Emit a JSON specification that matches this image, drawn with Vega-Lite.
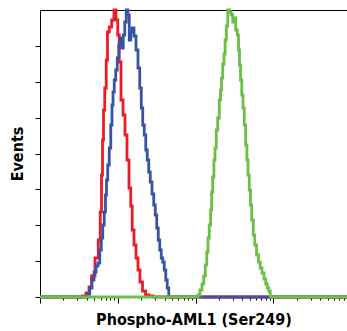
{
  "$schema": "https://vega.github.io/schema/vega-lite/v6.json",
  "autosize": "none",
  "width": 307,
  "height": 287,
  "padding": {"left": 40, "top": 10, "right": 0, "bottom": 34},
  "background": "white",
  "config": {"view": {"stroke": null}},
  "datasets": {
    "hist": [
      {"sample": "Isotype Control", "logIntensity": 0, "events": 0},
      {"sample": "Isotype Control", "logIntensity": 0.527, "events": 0},
      {"sample": "Isotype Control", "logIntensity": 0.566, "events": 0.35},
      {"sample": "Isotype Control", "logIntensity": 0.617, "events": 1.39},
      {"sample": "Isotype Control", "logIntensity": 0.643, "events": 3.48},
      {"sample": "Isotype Control", "logIntensity": 0.681, "events": 7.32},
      {"sample": "Isotype Control", "logIntensity": 0.733, "events": 13.59},
      {"sample": "Isotype Control", "logIntensity": 0.765, "events": 19.86},
      {"sample": "Isotype Control", "logIntensity": 0.784, "events": 29.62},
      {"sample": "Isotype Control", "logIntensity": 0.797, "events": 42.51},
      {"sample": "Isotype Control", "logIntensity": 0.81, "events": 54.7},
      {"sample": "Isotype Control", "logIntensity": 0.823, "events": 65.16},
      {"sample": "Isotype Control", "logIntensity": 0.842, "events": 72.82},
      {"sample": "Isotype Control", "logIntensity": 0.861, "events": 82.58},
      {"sample": "Isotype Control", "logIntensity": 0.874, "events": 92.33},
      {"sample": "Isotype Control", "logIntensity": 0.906, "events": 94.08},
      {"sample": "Isotype Control", "logIntensity": 0.938, "events": 96.52},
      {"sample": "Isotype Control", "logIntensity": 0.964, "events": 100},
      {"sample": "Isotype Control", "logIntensity": 0.99, "events": 96.52},
      {"sample": "Isotype Control", "logIntensity": 1.009, "events": 91.29},
      {"sample": "Isotype Control", "logIntensity": 1.028, "events": 81.88},
      {"sample": "Isotype Control", "logIntensity": 1.054, "events": 68.64},
      {"sample": "Isotype Control", "logIntensity": 1.08, "events": 63.41},
      {"sample": "Isotype Control", "logIntensity": 1.105, "events": 56.45},
      {"sample": "Isotype Control", "logIntensity": 1.131, "events": 47.74},
      {"sample": "Isotype Control", "logIntensity": 1.157, "events": 37.98},
      {"sample": "Isotype Control", "logIntensity": 1.176, "events": 31.71},
      {"sample": "Isotype Control", "logIntensity": 1.195, "events": 23.34},
      {"sample": "Isotype Control", "logIntensity": 1.221, "events": 18.12},
      {"sample": "Isotype Control", "logIntensity": 1.247, "events": 13.59},
      {"sample": "Isotype Control", "logIntensity": 1.272, "events": 9.41},
      {"sample": "Isotype Control", "logIntensity": 1.298, "events": 5.23},
      {"sample": "Isotype Control", "logIntensity": 1.337, "events": 2.09},
      {"sample": "Isotype Control", "logIntensity": 1.375, "events": 0.7},
      {"sample": "Isotype Control", "logIntensity": 1.427, "events": 0.35},
      {"sample": "Isotype Control", "logIntensity": 1.478, "events": 0},
      {"sample": "Isotype Control", "logIntensity": 3.946, "events": 0},

      {"sample": "Untreated", "logIntensity": 0, "events": 0},
      {"sample": "Untreated", "logIntensity": 0.604, "events": 0},
      {"sample": "Untreated", "logIntensity": 0.623, "events": 1.05},
      {"sample": "Untreated", "logIntensity": 0.656, "events": 3.14},
      {"sample": "Untreated", "logIntensity": 0.681, "events": 5.92},
      {"sample": "Untreated", "logIntensity": 0.707, "events": 8.71},
      {"sample": "Untreated", "logIntensity": 0.733, "events": 10.8},
      {"sample": "Untreated", "logIntensity": 0.758, "events": 11.85},
      {"sample": "Untreated", "logIntensity": 0.778, "events": 16.38},
      {"sample": "Untreated", "logIntensity": 0.797, "events": 20.56},
      {"sample": "Untreated", "logIntensity": 0.816, "events": 25.09},
      {"sample": "Untreated", "logIntensity": 0.835, "events": 29.62},
      {"sample": "Untreated", "logIntensity": 0.848, "events": 35.54},
      {"sample": "Untreated", "logIntensity": 0.861, "events": 40.77},
      {"sample": "Untreated", "logIntensity": 0.88, "events": 45.99},
      {"sample": "Untreated", "logIntensity": 0.9, "events": 51.92},
      {"sample": "Untreated", "logIntensity": 0.919, "events": 59.93},
      {"sample": "Untreated", "logIntensity": 0.932, "events": 66.9},
      {"sample": "Untreated", "logIntensity": 0.945, "events": 71.43},
      {"sample": "Untreated", "logIntensity": 0.964, "events": 75.61},
      {"sample": "Untreated", "logIntensity": 0.983, "events": 79.09},
      {"sample": "Untreated", "logIntensity": 1.003, "events": 83.28},
      {"sample": "Untreated", "logIntensity": 1.022, "events": 87.8},
      {"sample": "Untreated", "logIntensity": 1.041, "events": 90.24},
      {"sample": "Untreated", "logIntensity": 1.06, "events": 86.76},
      {"sample": "Untreated", "logIntensity": 1.08, "events": 91.29},
      {"sample": "Untreated", "logIntensity": 1.099, "events": 95.82},
      {"sample": "Untreated", "logIntensity": 1.118, "events": 100},
      {"sample": "Untreated", "logIntensity": 1.138, "events": 98.26},
      {"sample": "Untreated", "logIntensity": 1.157, "events": 89.55},
      {"sample": "Untreated", "logIntensity": 1.176, "events": 92.33},
      {"sample": "Untreated", "logIntensity": 1.195, "events": 93.73},
      {"sample": "Untreated", "logIntensity": 1.221, "events": 90.94},
      {"sample": "Untreated", "logIntensity": 1.247, "events": 86.06},
      {"sample": "Untreated", "logIntensity": 1.272, "events": 79.79},
      {"sample": "Untreated", "logIntensity": 1.292, "events": 72.82},
      {"sample": "Untreated", "logIntensity": 1.311, "events": 65.85},
      {"sample": "Untreated", "logIntensity": 1.33, "events": 59.93},
      {"sample": "Untreated", "logIntensity": 1.35, "events": 56.45},
      {"sample": "Untreated", "logIntensity": 1.369, "events": 51.22},
      {"sample": "Untreated", "logIntensity": 1.388, "events": 47.74},
      {"sample": "Untreated", "logIntensity": 1.407, "events": 43.55},
      {"sample": "Untreated", "logIntensity": 1.427, "events": 40.07},
      {"sample": "Untreated", "logIntensity": 1.452, "events": 35.89},
      {"sample": "Untreated", "logIntensity": 1.472, "events": 32.06},
      {"sample": "Untreated", "logIntensity": 1.491, "events": 28.57},
      {"sample": "Untreated", "logIntensity": 1.51, "events": 24.04},
      {"sample": "Untreated", "logIntensity": 1.53, "events": 19.86},
      {"sample": "Untreated", "logIntensity": 1.549, "events": 16.38},
      {"sample": "Untreated", "logIntensity": 1.568, "events": 13.59},
      {"sample": "Untreated", "logIntensity": 1.587, "events": 12.2},
      {"sample": "Untreated", "logIntensity": 1.607, "events": 9.41},
      {"sample": "Untreated", "logIntensity": 1.626, "events": 5.92},
      {"sample": "Untreated", "logIntensity": 1.645, "events": 3.14},
      {"sample": "Untreated", "logIntensity": 1.665, "events": 0},
      {"sample": "Untreated", "logIntensity": 3.946, "events": 0},

      {"sample": "Treated", "logIntensity": 0, "events": 0},
      {"sample": "Treated", "logIntensity": 2.018, "events": 0},
      {"sample": "Treated", "logIntensity": 2.044, "events": 0.7},
      {"sample": "Treated", "logIntensity": 2.069, "events": 2.44},
      {"sample": "Treated", "logIntensity": 2.095, "events": 4.53},
      {"sample": "Treated", "logIntensity": 2.114, "events": 7.32},
      {"sample": "Treated", "logIntensity": 2.134, "events": 11.15},
      {"sample": "Treated", "logIntensity": 2.153, "events": 15.68},
      {"sample": "Treated", "logIntensity": 2.166, "events": 20.56},
      {"sample": "Treated", "logIntensity": 2.185, "events": 25.09},
      {"sample": "Treated", "logIntensity": 2.201, "events": 30.31},
      {"sample": "Treated", "logIntensity": 2.211, "events": 36.59},
      {"sample": "Treated", "logIntensity": 2.228, "events": 41.81},
      {"sample": "Treated", "logIntensity": 2.243, "events": 47.74},
      {"sample": "Treated", "logIntensity": 2.256, "events": 51.92},
      {"sample": "Treated", "logIntensity": 2.275, "events": 58.19},
      {"sample": "Treated", "logIntensity": 2.294, "events": 62.37},
      {"sample": "Treated", "logIntensity": 2.314, "events": 68.64},
      {"sample": "Treated", "logIntensity": 2.326, "events": 72.13},
      {"sample": "Treated", "logIntensity": 2.339, "events": 76.31},
      {"sample": "Treated", "logIntensity": 2.359, "events": 81.18},
      {"sample": "Treated", "logIntensity": 2.371, "events": 84.67},
      {"sample": "Treated", "logIntensity": 2.387, "events": 89.55},
      {"sample": "Treated", "logIntensity": 2.404, "events": 94.43},
      {"sample": "Treated", "logIntensity": 2.423, "events": 100},
      {"sample": "Treated", "logIntensity": 2.449, "events": 99.3},
      {"sample": "Treated", "logIntensity": 2.468, "events": 98.26},
      {"sample": "Treated", "logIntensity": 2.487, "events": 95.82},
      {"sample": "Treated", "logIntensity": 2.506, "events": 97.21},
      {"sample": "Treated", "logIntensity": 2.526, "events": 93.03},
      {"sample": "Treated", "logIntensity": 2.545, "events": 91.29},
      {"sample": "Treated", "logIntensity": 2.558, "events": 86.06},
      {"sample": "Treated", "logIntensity": 2.571, "events": 80.84},
      {"sample": "Treated", "logIntensity": 2.584, "events": 75.61},
      {"sample": "Treated", "logIntensity": 2.603, "events": 70.38},
      {"sample": "Treated", "logIntensity": 2.616, "events": 65.85},
      {"sample": "Treated", "logIntensity": 2.635, "events": 59.93},
      {"sample": "Treated", "logIntensity": 2.652, "events": 52.96},
      {"sample": "Treated", "logIntensity": 2.667, "events": 47.74},
      {"sample": "Treated", "logIntensity": 2.68, "events": 42.51},
      {"sample": "Treated", "logIntensity": 2.699, "events": 37.28},
      {"sample": "Treated", "logIntensity": 2.712, "events": 32.06},
      {"sample": "Treated", "logIntensity": 2.731, "events": 26.83},
      {"sample": "Treated", "logIntensity": 2.751, "events": 21.6},
      {"sample": "Treated", "logIntensity": 2.77, "events": 18.12},
      {"sample": "Treated", "logIntensity": 2.796, "events": 14.63},
      {"sample": "Treated", "logIntensity": 2.821, "events": 12.2},
      {"sample": "Treated", "logIntensity": 2.841, "events": 10.1},
      {"sample": "Treated", "logIntensity": 2.866, "events": 8.36},
      {"sample": "Treated", "logIntensity": 2.892, "events": 6.27},
      {"sample": "Treated", "logIntensity": 2.911, "events": 4.53},
      {"sample": "Treated", "logIntensity": 2.931, "events": 3.14},
      {"sample": "Treated", "logIntensity": 2.95, "events": 2.09},
      {"sample": "Treated", "logIntensity": 2.969, "events": 0.35},
      {"sample": "Treated", "logIntensity": 2.982, "events": 0},
      {"sample": "Treated", "logIntensity": 3.946, "events": 0}
    ]
  },
  "data": {"name": "hist"},
  "mark": {"type": "line", "interpolate": "step", "strokeWidth": 2.8, "strokeJoin": "miter", "clip": false},
  "encoding": {
    "x": {
      "field": "logIntensity",
      "type": "quantitative",
      "scale": {"domain": [0, 3.946], "nice": false, "zero": false},
      "axis": {
        "title": "Phospho-AML1 (Ser249)",
        "titleFont": "DejaVu Sans Condensed",
        "titleFontSize": 16,
        "titleFontWeight": "bold",
        "titleColor": "black",
        "titlePadding": 8,
        "labels": false,
        "grid": false,
        "domainColor": "black",
        "domainWidth": 1,
        "tickColor": "black",
        "tickWidth": 1,
        "tickSize": {"condition": {"test": "datum.value % 1 === 0", "value": 6}, "value": 3},
        "values": [0, 0.301, 0.477, 0.602, 0.699, 0.778, 0.845, 0.903, 0.954,
                   1, 1.301, 1.477, 1.602, 1.699, 1.778, 1.845, 1.903, 1.954,
                   2, 2.301, 2.477, 2.602, 2.699, 2.778, 2.845, 2.903, 2.954,
                   3, 3.301, 3.477, 3.602, 3.699, 3.778, 3.845, 3.903]
      }
    },
    "y": {
      "field": "events",
      "type": "quantitative",
      "scale": {"domain": [0, 100], "nice": false},
      "axis": {
        "title": "Events",
        "titleFont": "DejaVu Sans Condensed",
        "titleFontSize": 16,
        "titleFontWeight": "bold",
        "titleColor": "black",
        "titlePadding": 9,
        "labels": false,
        "grid": true,
        "gridColor": "black",
        "gridWidth": 1,
        "gridOpacity": {"condition": {"test": "datum.value === 100", "value": 1}, "value": 0},
        "domainColor": "black",
        "domainWidth": 1,
        "tickColor": "black",
        "tickWidth": 1,
        "tickSize": 5,
        "tickOpacity": {"condition": {"test": "datum.value === 100", "value": 0}, "value": 1},
        "values": [0, 12.5, 25, 37.5, 50, 62.5, 75, 87.5, 100]
      }
    },
    "color": {
      "field": "sample",
      "type": "nominal",
      "sort": ["Isotype Control", "Untreated", "Treated"],
      "scale": {"domain": ["Isotype Control", "Untreated", "Treated"], "range": ["#ed1c24", "#3953a4", "#6cbe45"]},
      "legend": null
    }
  }
}
